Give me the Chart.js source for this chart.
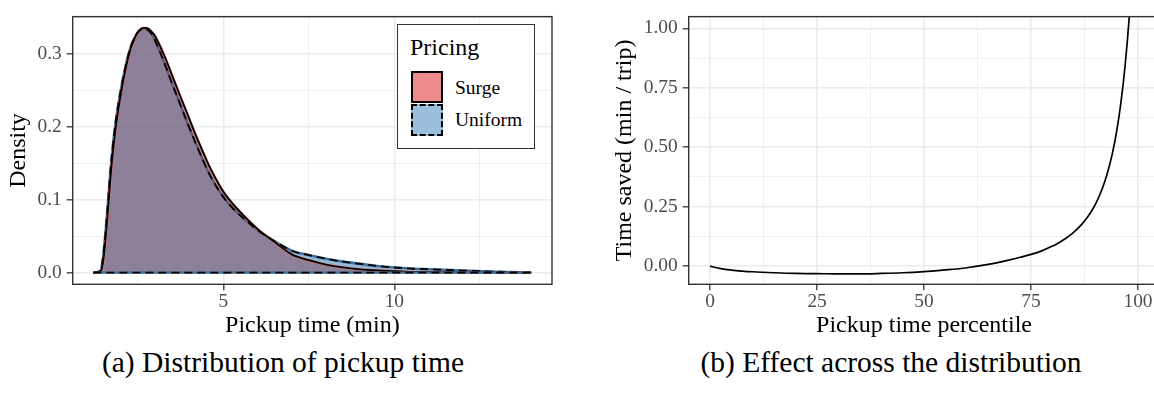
<!DOCTYPE html>
<html><head><meta charset="utf-8">
<script src="https://cdn.jsdelivr.net/npm/chart.js@4.4.1/dist/chart.umd.min.js"></script>
<style>
html,body{margin:0;padding:0;background:#fff;}
body{width:1154px;height:394px;overflow:hidden;position:relative;font-family:"Liberation Serif",serif;}
#ca{position:absolute;left:0;top:0;}
#cb{position:absolute;left:590px;top:0;}
.cap{position:absolute;width:600px;text-align:center;font-size:29.5px;line-height:29.5px;color:#000;white-space:nowrap;}
.lg{position:absolute;color:#000;white-space:nowrap;}
</style></head>
<body>
<canvas id="ca" width="580" height="340"></canvas>
<canvas id="cb" width="600" height="340"></canvas>

<div class="lg" style="left:397px;top:24px;width:138px;height:125px;border:1px solid #333;box-sizing:border-box;background:#fff;"></div>
<div class="lg" style="left:410px;top:35px;font-size:24px;line-height:24px;">Pricing</div>
<div class="lg" style="left:410.5px;top:70.5px;width:32px;height:32px;box-sizing:border-box;border:2px solid #000;background:#F08B8B;"></div>
<div class="lg" style="left:410.5px;top:104px;width:32px;height:32px;box-sizing:border-box;border:2px dashed #000;background:#9BBEDC;"></div>
<div class="lg" style="left:455px;top:78px;font-size:19.5px;line-height:19.5px;">Surge</div>
<div class="lg" style="left:455px;top:110px;font-size:19.5px;line-height:19.5px;">Uniform</div>

<div class="cap" style="left:-17px;top:348px;">(a) Distribution of pickup time</div>
<div class="cap" style="left:591px;top:348px;">(b) Effect across the distribution</div>

<script>
// ---------- Panel (a): density of pickup time ----------
const pickupTime = [1.2,1.4,1.45,1.5,1.6,1.7,1.8,1.9,2.0,2.1,2.2,2.3,2.4,2.5,2.6,2.7,2.8,2.9,3.0,3.15,3.3,3.5,3.7,3.93,4.2,4.4,4.61,4.8,5.0,5.3,5.58,6.07,6.5,7.0,7.5,8.0,8.5,9.0,9.5,10.0,10.5,11.0,12.0,13.0,14.0];
const densitySurge = [0,0.001,0.006,0.02,0.07,0.13,0.178,0.215,0.244,0.27,0.292,0.309,0.321,0.330,0.335,0.336,0.335,0.331,0.325,0.311,0.295,0.271,0.247,0.220,0.188,0.166,0.144,0.127,0.111,0.093,0.079,0.057,0.042,0.025,0.017,0.011,0.007,0.0045,0.003,0.002,0.001,0.0007,0.0003,0.0001,0];
const densityUniform = [0,0.002,0.01,0.028,0.08,0.14,0.187,0.222,0.25,0.274,0.295,0.311,0.322,0.330,0.334,0.335,0.333,0.328,0.319,0.303,0.285,0.260,0.236,0.208,0.177,0.155,0.134,0.118,0.104,0.087,0.075,0.056,0.043,0.030,0.024,0.019,0.015,0.012,0.009,0.007,0.0055,0.0045,0.0028,0.0012,0];
const seriesNames = ["Surge","Uniform"];
const xTicksA = [2.5,5,7.5,10,12.5];
const xMajorA = [5,10];
const yTicksA = [0,0.05,0.1,0.15,0.2,0.25,0.3,0.35];
const yMajorA = [0,0.1,0.2,0.3];

// ---------- Panel (b): time saved by percentile ----------
const percentile = [0,1,2.5,5,7.5,10,15,20,25,30,35,40,45,50,55,60,65,70,72.5,75,77.5,80,81,82,83,84,85,86,87,88,89,90,91,92,93,94,95,96,97,98,99];
const timeSaved = [0,-0.005,-0.011,-0.017,-0.021,-0.024,-0.028,-0.031,-0.032,-0.033,-0.033,-0.031,-0.028,-0.023,-0.016,-0.007,0.007,0.026,0.037,0.049,0.064,0.084,0.0932,0.1035,0.115,0.128,0.1427,0.1595,0.1788,0.2012,0.2274,0.2588,0.2968,0.3432,0.4007,0.4732,0.566,0.6866,0.8458,1.0591,1.349];
const xTicksB = [0,12.5,25,37.5,50,62.5,75,87.5,100];
const xMajorB = [0,25,50,75,100];
const yTicksB = [0,0.125,0.25,0.375,0.5,0.625,0.75,0.875,1.0];
const yMajorB = [0,0.25,0.5,0.75,1.0];

const pts = (xs, ys) => xs.map((x, i) => ({x: x, y: ys[i]}));
const base = xs => [{x: xs[0], y: 0}, {x: xs[xs.length - 1], y: 0}];
const near = (arr, v) => arr.some(a => Math.abs(a - v) < 1e-9);

const GRID = '#EBEBEB', TICKC = '#333333', LBL = '#4D4D4D';
const tickFont = {family: 'Liberation Serif', size: 19.4};
const titleFont = {family: 'Liberation Serif', size: 24};

const framePlugin = {
  id: 'frame',
  afterDatasetsDraw(chart) {
    const a = chart.chartArea, c = chart.ctx;
    c.save();
    c.strokeStyle = '#333333';
    c.lineWidth = 1.4;
    c.strokeRect(a.left, a.top, a.right - a.left, a.bottom - a.top);
    c.restore();
  }
};

function axis(opts) {
  return {
    type: 'linear',
    min: opts.min, max: opts.max,
    afterBuildTicks: s => { s.ticks = opts.ticks.map(v => ({value: v})); },
    afterFit: s => { if (opts.w !== undefined) s.width = opts.w; if (opts.h !== undefined) s.height = opts.h; },
    border: {display: false},
    grid: {
      color: GRID,
      lineWidth: c => near(opts.major, c.tick.value) ? 1.6 : 0.8,
      tickColor: c => near(opts.major, c.tick.value) ? TICKC : 'rgba(0,0,0,0)',
      tickLength: 6,
      tickWidth: 1.3
    },
    ticks: {
      autoSkip: false, maxRotation: 0, padding: opts.pad,
      color: LBL, font: tickFont,
      callback: v => near(opts.major, v) ? opts.fmt(v) : ''
    },
    title: {display: true, text: opts.title, color: '#000', font: titleFont, padding: opts.tpad}
  };
}

Chart.defaults.font.family = 'Liberation Serif';

new Chart(document.getElementById('ca'), {
  type: 'line',
  data: {
    datasets: [
      {label: seriesNames[1], data: pts(pickupTime, densityUniform), fill: 'origin', backgroundColor: 'rgba(55,126,184,0.55)', borderColor: '#3D6F99', borderWidth: 2.6, order: 7},
      {label: seriesNames[0], data: pts(pickupTime, densitySurge), fill: 'origin', backgroundColor: 'rgba(141,60,80,0.45)', borderColor: '#E57A7A', borderWidth: 2.6, order: 6},
      {label: seriesNames[0] + ' outline', data: pts(pickupTime, densitySurge), fill: false, borderColor: '#000', borderWidth: 1.8, order: 5},
      {label: seriesNames[1] + ' outline', data: pts(pickupTime, densityUniform), fill: false, borderColor: '#000', borderWidth: 1.8, borderDash: [8, 5], order: 4},
      {label: 'base ' + seriesNames[1], data: base(pickupTime), fill: false, borderColor: '#3D6F99', borderWidth: 2.2, order: 3},
      {label: 'base ' + seriesNames[0], data: base(pickupTime), fill: false, borderColor: '#000', borderWidth: 1.8, borderDash: [8, 5], order: 2}
    ]
  },
  options: {
    responsive: false, animation: false,
    layout: {padding: {left: 0, top: 11, right: 28, bottom: 0}},
    elements: {point: {radius: 0}, line: {cubicInterpolationMode: 'monotone'}},
    plugins: {legend: {display: false}, tooltip: {enabled: false}},
    scales: {
      x: axis({min: 0.596, max: 14.61, ticks: xTicksA, major: xMajorA, fmt: v => String(v), h: 55.7, pad: 0, title: 'Pickup time (min)', tpad: {top: 0, bottom: 0}}),
      y: axis({min: -0.0161, max: 0.3515, ticks: yTicksA, major: yMajorA, fmt: v => v.toFixed(1), w: 72.7, pad: 5, title: 'Density', tpad: {top: 4, bottom: 0}})
    }
  },
  plugins: [framePlugin]
});

new Chart(document.getElementById('cb'), {
  type: 'line',
  data: {
    datasets: [
      {label: 'Time saved', data: pts(percentile, timeSaved), fill: false, borderColor: '#000', borderWidth: 1.7}
    ]
  },
  options: {
    responsive: false, animation: false,
    layout: {padding: {left: 0, top: 11, right: 30.6, bottom: 0}},
    elements: {point: {radius: 0}, line: {cubicInterpolationMode: 'monotone'}},
    plugins: {legend: {display: false}, tooltip: {enabled: false}},
    scales: {
      x: axis({min: -5, max: 105, ticks: xTicksB, major: xMajorB, fmt: v => String(v), h: 55.7, pad: 0, title: 'Pickup time percentile', tpad: {top: 0, bottom: 0}}),
      y: axis({min: -0.0767, max: 1.0494, ticks: yTicksB, major: yMajorB, fmt: v => v.toFixed(2), w: 98.7, pad: 5, title: 'Time saved (min / trip)', tpad: {top: 20.8, bottom: 0}})
    }
  },
  plugins: [framePlugin]
});
</script>
</body></html>
